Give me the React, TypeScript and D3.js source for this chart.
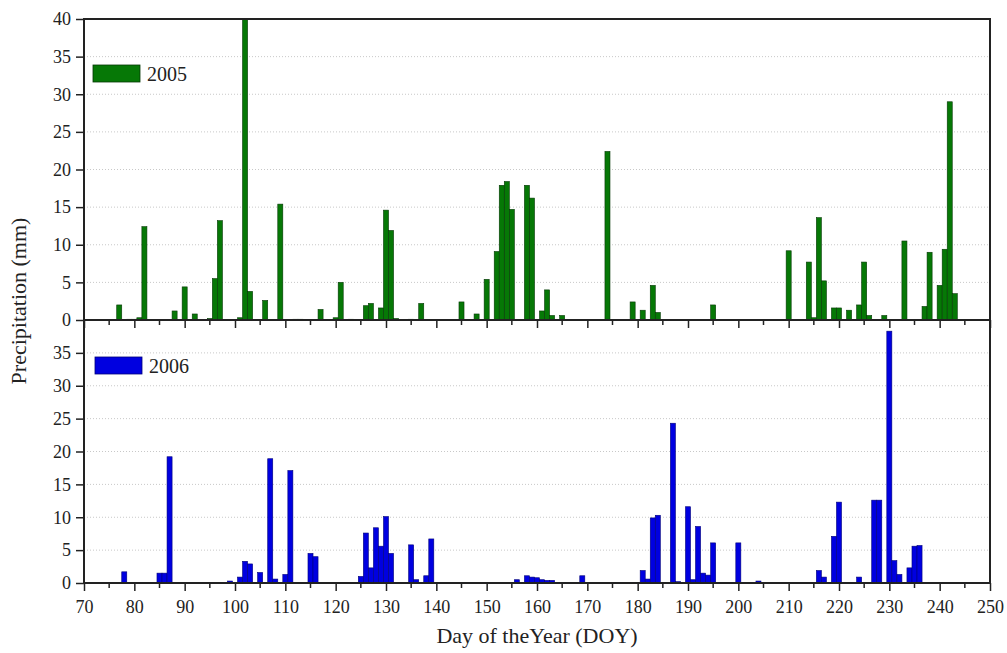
import React, { useRef, useEffect } from "react";
import * as d3 from "d3";

// daily precipitation (mm) by day of year
const days2005 = [77, 79, 80, 81, 82, 88, 90, 92, 95, 96, 97, 101, 102, 103, 106, 109, 112, 113, 117, 120, 121, 123, 126, 127, 129, 130, 131, 132, 135, 137, 145, 148, 150, 152, 153, 154, 155, 158, 159, 161, 162, 163, 165, 174, 179, 181, 183, 184, 195, 210, 214, 215, 216, 217, 219, 220, 222, 224, 225, 226, 229, 233, 237, 238, 240, 241, 242, 243];
const precip2005 = [2.0, 0.1, 0.1, 0.3, 12.4, 1.2, 4.4, 0.8, 0.2, 5.5, 13.2, 0.3, 40, 3.8, 2.6, 15.4, 0.1, 0.1, 1.4, 0.3, 5.0, 0.1, 1.9, 2.2, 1.6, 14.6, 11.9, 0.2, 0.1, 2.2, 2.4, 0.8, 5.4, 9.1, 17.9, 18.4, 14.7, 17.9, 16.2, 1.2, 4.0, 0.6, 0.6, 22.4, 2.4, 1.3, 4.6, 1.0, 2.0, 9.2, 7.7, 0.3, 13.6, 5.2, 1.6, 1.6, 1.3, 2.0, 7.7, 0.6, 0.6, 10.5, 1.8, 9.0, 4.6, 9.4, 29.0, 3.5];

const days2006 = [77, 78, 85, 86, 87, 99, 101, 102, 103, 105, 107, 108, 110, 111, 115, 116, 125, 126, 127, 128, 129, 130, 131, 135, 136, 138, 139, 156, 158, 159, 160, 161, 162, 163, 164, 169, 181, 182, 183, 184, 186, 187, 188, 190, 191, 192, 193, 194, 195, 200, 204, 216, 217, 219, 220, 224, 227, 228, 230, 231, 232, 234, 235, 236, 237, 238, 239, 242];
const precip2006 = [0.1, 1.7, 1.5, 1.5, 19.2, 0.3, 0.9, 3.3, 2.9, 1.6, 18.9, 0.6, 1.3, 17.1, 4.5, 4.0, 1.0, 7.6, 2.3, 8.4, 5.6, 10.1, 4.5, 5.8, 0.5, 1.1, 6.7, 0.5, 1.1, 0.9, 0.8, 0.5, 0.4, 0.4, 0.1, 1.1, 1.9, 0.6, 9.9, 10.3, 0.1, 24.3, 0.2, 11.6, 0.5, 8.6, 1.5, 1.2, 6.1, 6.1, 0.3, 1.9, 0.9, 7.1, 12.3, 0.9, 12.6, 12.6, 38.3, 3.4, 1.3, 2.3, 5.6, 5.7, 0.1, 0.1, 0.1, 0.1];

const xTicks = d3.range(70, 251, 10);
const xMinorTicks = d3.range(75, 250, 10);
const yTicksTop = d3.range(0, 41, 5);
const yTicksBottom = d3.range(0, 36, 5);
const gridValues = d3.range(5, 36, 5);

const FONT = "Liberation Serif, Times New Roman, serif";

const App = () => {
  const ref = useRef<SVGSVGElement | null>(null);

  useEffect(() => {
    const svg = d3.select(ref.current);
    svg.selectAll("*").remove();

    const left = 84,
      right = 990,
      top = 19,
      mid = 320,
      bottom = 583;

    const x = d3.scaleLinear().domain([70, 250]).range([left, right]);
    const yTop = d3.scaleLinear().domain([0, 40]).range([mid, top]);
    const yBot = d3.scaleLinear().domain([0, 40]).range([bottom, mid]);

    const panels = [
      { y: yTop, days: days2005, vals: precip2005, color: "#067806", stroke: "#063806", label: "2005", ticks: yTicksTop },
      { y: yBot, days: days2006, vals: precip2006, color: "#0000e0", stroke: "#00007a", label: "2006", ticks: yTicksBottom },
    ];

    panels.forEach((p) => {
      // dotted grid
      svg
        .append("g")
        .selectAll("line")
        .data(gridValues)
        .join("line")
        .attr("x1", left)
        .attr("x2", right)
        .attr("y1", (d) => p.y(d))
        .attr("y2", (d) => p.y(d))
        .attr("stroke", "#c8c8c8")
        .attr("stroke-width", 1)
        .attr("stroke-dasharray", "1,2");

      // bars
      const data = p.days.map((d, i) => ({ day: d, v: p.vals[i] }));
      svg
        .append("g")
        .selectAll("rect")
        .data(data)
        .join("rect")
        .attr("x", (d) => x(d.day - 0.5))
        .attr("width", x(71) - x(70))
        .attr("y", (d) => p.y(d.v))
        .attr("height", (d) => p.y(0) - p.y(d.v))
        .attr("fill", p.color)
        .attr("stroke", p.stroke)
        .attr("stroke-width", 0.6);

      // y axis
      const ax = svg
        .append("g")
        .attr("transform", `translate(${left},0)`)
        .call(d3.axisLeft(p.y).tickValues(p.ticks).tickSize(8).tickPadding(5).tickFormat(d3.format("d")))
        .attr("font-family", FONT)
        .attr("font-size", 18);
      ax.select(".domain").remove();
      ax.selectAll("line").attr("stroke", "#222").attr("stroke-width", 1.5);
      ax.selectAll("text").attr("fill", "#222");

      // x axis line with ticks pointing down
      const xa = svg
        .append("g")
        .attr("transform", `translate(0,${p.y(0)})`)
        .call(d3.axisBottom(x).tickValues(xTicks).tickSize(8).tickPadding(9).tickFormat(p.label === "2006" ? d3.format("d") : () => ""))
        .attr("font-family", FONT)
        .attr("font-size", 18);
      xa.select(".domain").remove();
      xa.selectAll("line").attr("stroke", "#222").attr("stroke-width", 1.5);
      xa.selectAll("text").attr("fill", "#222");
      svg
        .append("g")
        .selectAll("line")
        .data(xMinorTicks)
        .join("line")
        .attr("x1", (d) => x(d))
        .attr("x2", (d) => x(d))
        .attr("y1", p.y(0))
        .attr("y2", p.y(0) + 5)
        .attr("stroke", "#222")
        .attr("stroke-width", 1.5);
    });

    // frame
    svg
      .append("rect")
      .attr("x", left)
      .attr("y", top)
      .attr("width", right - left)
      .attr("height", bottom - top)
      .attr("fill", "none")
      .attr("stroke", "#222")
      .attr("stroke-width", 2);
    svg
      .append("line")
      .attr("x1", left)
      .attr("x2", right)
      .attr("y1", mid)
      .attr("y2", mid)
      .attr("stroke", "#222")
      .attr("stroke-width", 2);

    // legends
    const legends = [
      { x: 93, y: 65, color: panels[0].color, stroke: panels[0].stroke, label: "2005" },
      { x: 95, y: 357, color: panels[1].color, stroke: panels[1].stroke, label: "2006" },
    ];
    legends.forEach((l) => {
      svg
        .append("rect")
        .attr("x", l.x)
        .attr("y", l.y)
        .attr("width", 47)
        .attr("height", 17)
        .attr("fill", l.color)
        .attr("stroke", l.stroke)
        .attr("stroke-width", 0.8);
      svg
        .append("text")
        .attr("x", l.x + 54)
        .attr("y", l.y + 16)
        .attr("font-family", FONT)
        .attr("font-size", 20)
        .attr("fill", "#222")
        .text(l.label);
    });

    // axis titles
    svg
      .append("text")
      .attr("transform", `translate(26,${(top + bottom) / 2}) rotate(-90)`)
      .attr("text-anchor", "middle")
      .attr("font-family", FONT)
      .attr("font-size", 22)
      .attr("fill", "#222")
      .text("Precipitation (mm)");
    svg
      .append("text")
      .attr("x", (left + right) / 2)
      .attr("y", 643)
      .attr("text-anchor", "middle")
      .attr("font-family", FONT)
      .attr("font-size", 22)
      .attr("fill", "#222")
      .text("Day of theYear (DOY)");
  }, []);

  return (
    <svg
      ref={ref}
      width={1007}
      height={653}
      style={{ position: "absolute", left: 0, top: 0, background: "#fff" }}
    />
  );
};

export default App;
